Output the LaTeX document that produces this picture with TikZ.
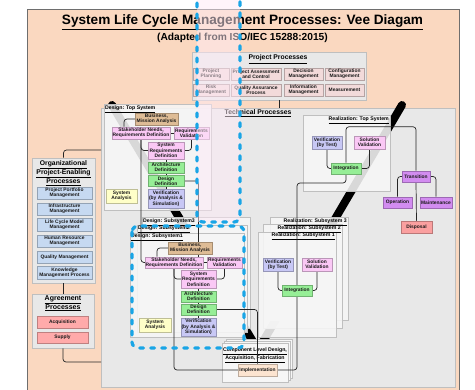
\documentclass[tikz,border=0pt]{standalone}
\usepackage{fontspec}
\setmainfont{Liberation Sans}
\usetikzlibrary{calc}
\definecolor{peach}{RGB}{250,216,192}
\definecolor{techgrey}{RGB}{232,232,232}
\definecolor{contfill}{RGB}{246,246,246}
\definecolor{ppfill}{RGB}{242,218,218}
\definecolor{orgblue}{RGB}{198,217,241}
\definecolor{agrred}{RGB}{255,170,170}
\definecolor{bmatan}{RGB}{222,188,150}
\definecolor{lpink}{RGB}{250,200,245}
\definecolor{lgreen}{RGB}{150,238,150}
\definecolor{lav}{RGB}{200,200,245}
\definecolor{lyellow}{RGB}{255,255,200}
\definecolor{lpurple}{RGB}{210,140,240}
\definecolor{salmon}{RGB}{250,160,160}
\definecolor{implfill}{RGB}{252,228,208}
\definecolor{selblue}{RGB}{25,165,230}
\definecolor{selpink}{RGB}{255,234,247}
\definecolor{framegrey}{RGB}{110,110,110}
\pgfdeclarelayer{bg}
\pgfdeclarelayer{mid}
\pgfdeclarelayer{fg}
\pgfsetlayers{bg,mid,main,fg}
\begin{document}
\begin{tikzpicture}[x=1pt,y=-1pt,
 lf/.style={draw=#1!75!black, fill=#1, line width=0.5pt, rectangle, inner sep=0pt, align=center, font=\fontsize{4.9}{5.4}\selectfont\bfseries, text=black!90},
 cont/.style={draw=black!25, fill=contfill, fill opacity=0.88, line width=0.5pt, rectangle, inner sep=0pt},
 ttl/.style={inner sep=0pt, font=\fontsize{5.2}{6}\selectfont\bfseries, align=center},
 bigttl/.style={inner sep=0pt, font=\fontsize{6.8}{8}\selectfont\bfseries, align=center},
 conn/.style={draw=black!85, line width=0.7pt, rounded corners=3pt},
 grp/.style={draw=black!25, fill=techgrey, line width=0.6pt, rectangle, inner sep=0pt},
 seldash/.style={draw=selblue, line width=3.2pt, line cap=round, dash pattern=on 4pt off 7pt, rounded corners=6pt}]
\useasboundingbox (0,0) rectangle (475,390);
\begin{pgfonlayer}{bg}
\fill[white] (0,0) rectangle (475,390);
\draw[fill=peach, draw=framegrey, line width=0.8pt] (27,9) rectangle (459,396);
\node[inner sep=0pt, anchor=base, font=\fontsize{13.6}{15}\selectfont\bfseries] (title) at (242.5,25) {\underline{System Life Cycle Management Processes: Vee Diagam}};
\node[inner sep=0pt, anchor=base, font=\fontsize{10.2}{12}\selectfont\bfseries] (subtitle) at (242.5,41) {(Adapted from ISO/IEC 15288:2015)};
% project processes
\node[grp, minimum width=174pt, minimum height=48pt] (PP) at (279,76) {};
\node[bigttl, anchor=base] (PPt) at (278,60) {\underline{Project Processes}};
% technical processes
\node[grp, minimum width=354pt, minimum height=279pt] (TECH) at (278,247.5) {};
\node[bigttl, anchor=base] (TECHt) at (258,114.5) {\underline{Technical Processes}};
% organizational
\node[grp, minimum width=63pt, minimum height=125pt] (ORG) at (63.5,220.5) {};
\node[bigttl] (ORGt) at (63.5,173) {\underline{Organizational}\\\underline{Project-Enabling}\\\underline{Processes}};
\node[grp, minimum width=62pt, minimum height=54pt] (AGR) at (63,321) {};
\node[bigttl, font=\fontsize{7}{8.5}\selectfont\bfseries] (AGRt) at (63,303.5) {\underline{Agreement}\\\underline{Processes}};
% vee
\coordinate (vl) at (112,105);
\coordinate (vb) at (258,350);
\coordinate (vr) at (402,105);
\draw[line width=8pt, line cap=round, line join=round] (vl) -- (vb) -- (vr);
% containers
\node[cont, minimum width=107pt, minimum height=106pt] (DTOP) at (157.5,157) {};
\node[cont, minimum width=87pt, minimum height=76pt] (RTOP) at (346.5,153) {};
\node[cont, minimum width=108pt, minimum height=111pt] (D3) at (196,272.5) {};
\node[cont, minimum width=110pt, minimum height=107pt] (D2) at (192,278.5) {};
\node[cont, minimum width=114pt, minimum height=104pt] (D1) at (187,285) {};
\node[cont, minimum width=78pt, minimum height=103pt] (R3) at (309,268.5) {};
\node[cont, minimum width=79pt, minimum height=104pt] (R2) at (302.5,276) {};
\node[cont, minimum width=78pt, minimum height=105pt] (R1) at (297,284.5) {};
\node[cont, fill opacity=1, minimum width=66pt, minimum height=39pt] (CLD3) at (259,358.5) {};
\node[cont, fill opacity=1, minimum width=66pt, minimum height=39pt] (CLD2) at (257,360.5) {};
\node[cont, fill opacity=1, minimum width=66pt, minimum height=39pt] (CLD) at (255,362.5) {};
\node[ttl, anchor=north west] (DTOPt) at (105,105.5) {\underline{Design: Top System}};
\node[ttl, anchor=north east] (RTOPt) at (389,116.5) {\underline{Realization: Top System}};
\node[ttl, anchor=north west] (D3t) at (143,218.5) {\underline{Design: Subsystem3}};
\node[ttl, anchor=north west] (D2t) at (138,226) {\underline{Design: Subsystem2}};
\node[ttl, anchor=north west] (D1t) at (131,234) {\underline{Design: Subsystem1}};
\node[ttl, anchor=north east] (R3t) at (347,218.5) {\underline{Realization: Subsystem 3}};
\node[ttl, anchor=north east] (R2t) at (341,225.5) {\underline{Realization: Subsystem 2}};
\node[ttl, anchor=north east] (R1t) at (335,233) {\underline{Realization: Subsystem 1}};
\node[ttl] (CLDt) at (255,355.5) {\underline{Component Level Design,}\\\underline{Acquisition, Fabrication}};
\end{pgfonlayer}
% project leaves
\node[lf=ppfill, minimum width=36pt, minimum height=12pt] (PP1) at (211,74) {Project\\Planning};
\node[lf=ppfill, minimum width=50pt, minimum height=12pt] (PP2) at (256,74) {Project Assessment\\and Control};
\node[lf=ppfill, minimum width=39pt, minimum height=12pt] (PP3) at (303.5,74) {Decision\\Management};
\node[lf=ppfill, minimum width=39pt, minimum height=12pt] (PP4) at (344.5,74) {Configuration\\Management};
\node[lf=ppfill, minimum width=36pt, minimum height=12pt] (PP5) at (211,90) {Risk\\Management};
\node[lf=ppfill, minimum width=50pt, minimum height=12pt] (PP6) at (256,90) {Quality Assurance\\Process};
\node[lf=ppfill, minimum width=39pt, minimum height=12pt] (PP7) at (303.5,90) {Information\\Management};
\node[lf=ppfill, minimum width=39pt, minimum height=12pt] (PP8) at (344.5,90) {Measurement};
% org leaves
\node[lf=orgblue, minimum width=55pt, minimum height=12pt] (O1) at (64.5,193) {Project Portfolio\\Management};
\node[lf=orgblue, minimum width=55pt, minimum height=12pt] (O2) at (64.5,209) {Infrastructure\\Management};
\node[lf=orgblue, minimum width=55pt, minimum height=13pt] (O3) at (64.5,224.5) {Life Cycle Model\\Management};
\node[lf=orgblue, minimum width=55pt, minimum height=12pt] (O4) at (64.5,241) {Human Resource\\Management};
\node[lf=orgblue, minimum width=55pt, minimum height=12pt] (O5) at (64.5,257) {Quality Management};
\node[lf=orgblue, minimum width=55pt, minimum height=13pt] (O6) at (64.5,272.5) {Knowledge\\Management Process};
\node[lf=agrred, minimum width=51pt, minimum height=12pt] (ACQ) at (62.5,322) {Acquisition};
\node[lf=agrred, minimum width=51pt, minimum height=11pt] (SUP) at (62.5,337.5) {Supply};
% design top
\node[lf=bmatan, minimum width=43pt, minimum height=12pt] (BMA) at (156.5,119) {Business,\\Mission Analysis};
\node[lf=lpink, minimum width=58pt, minimum height=12pt] (SNRD) at (141,133) {Stakeholder Needs,\\Requirements Definition};
\node[lf=lpink, minimum width=35pt, minimum height=12pt] (RV) at (191.5,133) {Requirements\\Validation};
\node[lf=lpink, minimum width=36pt, minimum height=17pt] (SRD) at (166,150.5) {System\\Requirements\\Definition};
\node[lf=lgreen, minimum width=36pt, minimum height=11pt] (AD) at (166,167.5) {Architecture\\Definition};
\node[lf=lgreen, minimum width=36pt, minimum height=11pt] (DD) at (166,181) {Design\\Definition};
\node[lf=lav, minimum width=36pt, minimum height=19pt] (VER) at (166,198.5) {Verification\\(by Analysis \&\\Simulation)};
\node[lf=lyellow, minimum width=31pt, minimum height=14pt] (SA) at (121.5,196) {System\\Analysis};
% design subsystem 1
\node[lf=bmatan, minimum width=44pt, minimum height=12pt] (BMA1) at (190,248) {Business,\\Mission Analysis};
\node[lf=lpink, minimum width=58pt, minimum height=11pt] (SNRD1) at (174,262.5) {Stakeholder Needs,\\Requirements Definition};
\node[lf=lpink, minimum width=35pt, minimum height=11pt] (RV1) at (224.5,262.5) {Requirements\\Validation};
\node[lf=lpink, minimum width=35pt, minimum height=18pt] (SRD1) at (198.5,279) {System\\Requirements\\Definition};
\node[lf=lgreen, minimum width=35pt, minimum height=11pt] (AD1) at (198.5,296.5) {Architecture\\Definition};
\node[lf=lgreen, minimum width=35pt, minimum height=11pt] (DD1) at (198.5,309.5) {Design\\Definition};
\node[lf=lav, minimum width=35pt, minimum height=18pt] (VER1) at (198.5,327) {Verification\\(by Analysis \&\\Simulation)};
\node[lf=lyellow, minimum width=32pt, minimum height=14pt] (SA1) at (155,325) {System\\Analysis};
% realization top
\node[lf=lav, minimum width=30pt, minimum height=13pt] (VT) at (327,142.5) {Verification\\(by Test)};
\node[lf=lpink, minimum width=31pt, minimum height=13pt] (SV) at (369.5,142.5) {Solution\\Validation};
\node[lf=lgreen, minimum width=30pt, minimum height=11pt] (INT) at (346,168.5) {Integration};
\node[lf=lpurple, minimum width=28pt, minimum height=11pt] (TRN) at (416,176.5) {Transition};
\node[lf=lpurple, minimum width=29pt, minimum height=11pt] (OP) at (397.5,202.5) {Operation};
\node[lf=lpurple, minimum width=32pt, minimum height=11pt] (MNT) at (436,202.5) {Maintenance};
\node[lf=salmon, minimum width=31pt, minimum height=12pt] (DSP) at (416.5,227) {Disposal};
% realization subsystem 1
\node[lf=lav, minimum width=30pt, minimum height=13pt] (VT1) at (278,264.5) {Verification\\(by Test)};
\node[lf=lpink, minimum width=30pt, minimum height=13pt] (SV1) at (317,264.5) {Solution\\Validation};
\node[lf=lgreen, minimum width=30pt, minimum height=11pt] (INT1) at (297,290.5) {Integration};
\node[lf=implfill, minimum width=39pt, minimum height=12pt] (IMPL) at (257.5,370) {Implementation};
% connectors
\begin{pgfonlayer}{mid}
\coordinate (orgin) at (101,150);
\coordinate (agrin) at (101,362);
\coordinate (loopbr) at (297,370);
\coordinate (loopmid) at (297,183);
\draw[conn] (PP.south) -- (PP.south |- TECH.north);
\draw[conn] (ORG.north) |- (orgin);
\draw[conn] (ORG.south) -- (ORG.south |- AGR.north);
\draw[conn] (AGR.south) |- (agrin);
\draw[conn] (BMA.west) -| ([xshift=-17pt]SNRD.north);
\draw[conn] (SNRD.east) -- (RV.west);
\draw[conn] (SNRD.south) |- (SRD.west);
\draw[conn] (RV.south) |- (SRD.east);
\draw[conn] (SRD.south) -- (AD.north);
\draw[conn] (AD.south) -- (DD.north);
\draw[conn] (DD.south) -- (VER.north);
\draw[conn] (DD.east) -| (SRD1.north);
\draw[conn] (SNRD.south) |- (SNRD1.west);
\draw[conn] (BMA1.west) -| ([xshift=-17pt]SNRD1.north);
\draw[conn] (SNRD1.east) -- (RV1.west);
\draw[conn] (SNRD1.south) |- (SRD1.west);
\draw[conn] (RV1.south) |- (SRD1.east);
\draw[conn] (SRD1.south) -- (AD1.north);
\draw[conn] (AD1.south) -- (DD1.north);
\draw[conn] (DD1.south) -- (VER1.north);
\draw[conn] (DD1.east) -| (IMPL.north);
\draw[conn] (SNRD1.south) |- (loopbr) -- (loopmid) -| (INT.south);
\draw[conn] (VT.south) |- (INT.west);
\draw[conn] (SV.south) |- (INT.east);
\draw[conn] (INT.north) -- ++(0,-36) -| (TRN.north);
\draw[conn] (TRN.west) -| (OP.north);
\draw[conn] (TRN.east) -| (MNT.north);
\draw[conn] (TRN.south) -- (DSP.north);
\draw[conn] (VT1.south) |- (INT1.west);
\draw[conn] (SV1.south) |- (INT1.east);
\end{pgfonlayer}
% selection overlay
\begin{pgfonlayer}{fg}
\fill[selpink, fill opacity=0.5] (197,-2) rectangle (240,222);
\draw[seldash] (197,-8) -- (197,222) -- (240,222) -- (240,-8);
\draw[seldash] (132,226) rectangle (244,348);
\end{pgfonlayer}
\end{tikzpicture}
\end{document}
